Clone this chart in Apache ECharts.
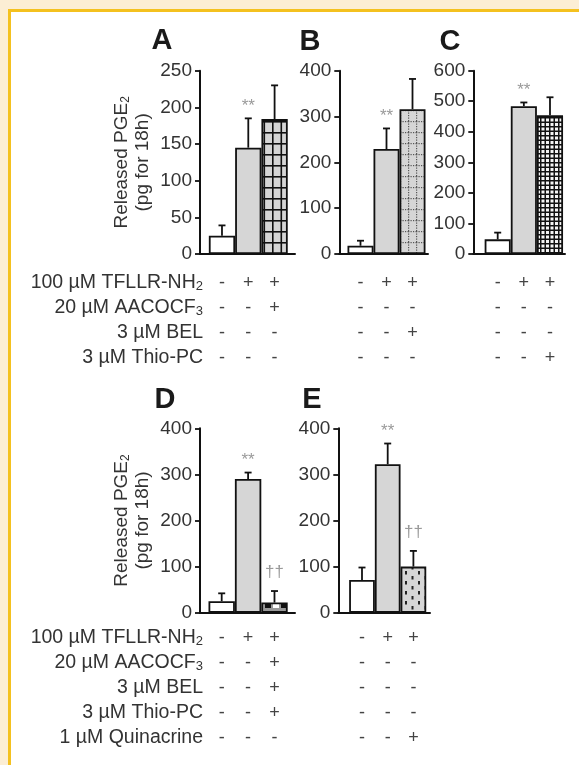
<!DOCTYPE html>
<html>
<head>
<meta charset="utf-8">
<script src="https://cdn.jsdelivr.net/npm/echarts@6/dist/echarts.min.js"></script>
<style>
  html, body { margin:0; padding:0; width:579px; height:765px; overflow:hidden; background:#FCEED4; }
  #frame { position:absolute; left:8px; top:9px; right:0; bottom:0; background:#fff;
           border-left:3px solid #F4C11F; border-top:3px solid #F4C11F; }
  #chart { position:absolute; left:0; top:0; width:579px; height:765px; }
</style>
</head>
<body>
<div id="frame"></div>
<div id="chart"></div>
<script>
// ---------------- DATA ----------------
const panelLetters = ['A', 'B', 'C', 'D', 'E'];
const conditions = [1, 2, 3];
const meansA = [25, 145, 184];
const errA   = [14, 40, 46];
const meansB = [18, 229, 316];
const errB   = [11, 45, 66];
const meansC = [48, 484, 454];
const errC   = [22, 12, 59];
const meansD = [25, 290, 22];
const errD   = [17, 14, 25];
const meansE = [71, 322, 100];
const errE   = [27, 45, 34];
const marksA = ['', '**', ''];
const marksB = ['', '**', ''];
const marksC = ['', '**', ''];
const marksD = ['', '**', '††'];
const marksE = ['', '**', '††'];
const yMaxes = [250, 400, 600, 400, 400];
const ySteps = [50, 100, 100, 100, 100];
const yTitleLine1 = 'Released PGE{s|2}';
const yTitleLine2 = '(pg for 18h)';
const topRowLabels = ['100 µM TFLLR-NH{s|2}', '20 µM AACOCF{s|3}', '3 µM BEL', '3 µM Thio-PC'];
const bottomRowLabels = ['100 µM TFLLR-NH{s|2}', '20 µM AACOCF{s|3}', '3 µM BEL', '3 µM Thio-PC', '1 µM Quinacrine'];
const signsA = [['-','+','+'], ['-','-','+'], ['-','-','-'], ['-','-','-']];
const signsB = [['-','+','+'], ['-','-','-'], ['-','-','+'], ['-','-','-']];
const signsC = [['-','+','+'], ['-','-','-'], ['-','-','-'], ['-','-','+']];
const signsD = [['-','+','+'], ['-','-','+'], ['-','-','+'], ['-','-','+'], ['-','-','-']];
const signsE = [['-','+','+'], ['-','-','-'], ['-','-','-'], ['-','-','-'], ['-','-','+']];

// ---------------- STYLE / LAYOUT ----------------
const FONT = '"Liberation Sans", Arial, Helvetica, sans-serif';
const TXT = '#333';
const GRAY = '#d6d6d6';
const grids = [
  { left: 200,   top: 70.7,  width: 95,   height: 183.3, xmin: 0.164, xmax: 3.776, bw: 26.3 },
  { left: 339.3, top: 70.7,  width: 88.7, height: 183.3, xmin: 0.185, xmax: 3.596, bw: 26 },
  { left: 473.3, top: 70.7,  width: 91.7, height: 183.3, xmin: 0.067, xmax: 3.574, bw: 26.1 },
  { left: 200,   top: 428.3, width: 95,   height: 184.4, xmin: 0.178, xmax: 3.777, bw: 26.4 },
  { left: 338.3, top: 428.3, width: 91.7, height: 184.4, xmin: 0.078, xmax: 3.646, bw: 25.7 }
];
const letterPos = [[162, 41], [310, 42], [450, 42], [165, 400], [312, 400]];

function mkCanvas(w, h) { const c = document.createElement('canvas'); c.width = w; c.height = h; return c; }
function patGrid() { // A: gray with black grid
  const c = mkCanvas(17, 22); const g = c.getContext('2d');
  g.fillStyle = GRAY; g.fillRect(0, 0, c.width, c.height);
  g.strokeStyle = '#111'; g.lineWidth = 1.6;
  [0.8, 9.3].forEach(x => { g.beginPath(); g.moveTo(x, 0); g.lineTo(x, c.height); g.stroke(); });
  [0.8, 11.8].forEach(y => { g.beginPath(); g.moveTo(0, y); g.lineTo(c.width, y); g.stroke(); });
  return c;
}
function patDotted() { // B: gray with dotted grid
  const c = mkCanvas(8, 11); const g = c.getContext('2d');
  g.fillStyle = GRAY; g.fillRect(0, 0, 8, 11);
  g.fillStyle = '#555';
  for (let y = 0; y < 11; y += 2.5) g.fillRect(0, y, 1.2, 1.2);
  for (let x = 0; x < 8; x += 2.5) g.fillRect(x, 0, 1.2, 1.2);
  return c;
}
function patMesh() { // C: fine black mesh
  const c = mkCanvas(9, 9); const g = c.getContext('2d');
  g.fillStyle = '#111'; g.fillRect(0, 0, 9, 9);
  g.fillStyle = '#f4f4f4';
  g.fillRect(1.5, 1.5, 3, 3); g.fillRect(6, 1.5, 3, 3);
  g.fillRect(1.5, 6, 3, 3); g.fillRect(6, 6, 3, 3);
  return c;
}
function patBlocks() { // D: black / white blocks
  const c = mkCanvas(16, 10); const g = c.getContext('2d');
  g.fillStyle = '#999'; g.fillRect(0, 0, 16, 10);
  g.fillStyle = '#fff'; g.fillRect(1, 2, 6, 6);
  g.fillStyle = '#111'; g.fillRect(9, 2, 6, 6);
  return c;
}
function patDots() { // E: gray with black dashes
  const c = mkCanvas(13, 10); const g = c.getContext('2d');
  g.fillStyle = GRAY; g.fillRect(0, 0, 13, 10);
  g.fillStyle = '#222';
  g.fillRect(2, 1, 2, 3.5); g.fillRect(8.5, 6, 2, 3.5);
  g.fillRect(8.5, -4, 2, 3.5);
  return c;
}
const patterns = [patGrid(), patDotted(), patMesh(), patBlocks(), patDots()];

const means = [meansA, meansB, meansC, meansD, meansE];
const errs = [errA, errB, errC, errD, errE];
const marks = [marksA, marksB, marksC, marksD, marksE];
const signs = [signsA, signsB, signsC, signsD, signsE];

const chart = echarts.init(document.getElementById('chart'), null, { renderer: 'canvas' });

const gridOpt = [], xAxes = [], yAxes = [], series = [];
grids.forEach((gd, i) => {
  gridOpt.push({ left: gd.left, top: gd.top, width: gd.width, height: gd.height, containLabel: false });
  xAxes.push({
    type: 'value', gridIndex: i, min: gd.xmin, max: gd.xmax,
    axisLine: { show: true, onZero: false, lineStyle: { color: '#111', width: 2 } },
    axisTick: { show: false }, axisLabel: { show: false }, splitLine: { show: false }
  });
  yAxes.push({
    type: 'value', gridIndex: i, min: 0, max: yMaxes[i], interval: ySteps[i],
    axisLine: { show: true, lineStyle: { color: '#111', width: 2 } },
    axisTick: { show: true, length: 5, lineStyle: { color: '#111', width: 1.8 } },
    axisLabel: { color: TXT, fontSize: 19, fontFamily: FONT, margin: 8 },
    splitLine: { show: false }
  });
  const fills = ['#ffffff', GRAY, { image: patterns[i], repeat: 'repeat' }];
  series.push({
    type: 'bar', xAxisIndex: i, yAxisIndex: i, barWidth: gd.bw,
    data: conditions.map((c, k) => ({
      value: [c, means[i][k]],
      itemStyle: { color: fills[k], borderColor: '#111', borderWidth: 1.8 }
    })),
    animation: false
  });
  series.push({
    type: 'custom', xAxisIndex: i, yAxisIndex: i, z: 5,
    data: conditions.map((c, k) => [c, means[i][k], errs[i][k], k]),
    renderItem: function (params, api) {
      const x = api.value(0), m = api.value(1), e = api.value(2), k = api.value(3);
      const p0 = api.coord([x, m]);
      const p1 = api.coord([x, m + e]);
      const children = [
        { type: 'line', shape: { x1: p0[0], y1: p0[1], x2: p1[0], y2: p1[1] }, style: { stroke: '#111', lineWidth: 1.8 } },
        { type: 'line', shape: { x1: p1[0] - 3.5, y1: p1[1], x2: p1[0] + 3.5, y2: p1[1] }, style: { stroke: '#111', lineWidth: 1.8 } }
      ];
      const mk = marks[i][k];
      if (mk) {
        const off = mk === '**' ? 12 : 19;
        children.push({ type: 'text', x: p1[0], y: p1[1] - off,
          style: { text: mk, fill: '#9a9a9a', fontSize: 17, fontFamily: FONT, align: 'center', verticalAlign: 'middle' } });
      }
      return { type: 'group', children: children };
    },
    animation: false
  });
});

const subRich = { s: { fontSize: 13, fontFamily: FONT, fill: TXT, verticalAlign: 'bottom', lineHeight: 8 } };

chart.setOption({
  animation: false,
  grid: gridOpt, xAxis: xAxes, yAxis: yAxes, series: series
});

// ----- graphics: letters, y titles, condition table -----
const graphics = [];
panelLetters.forEach((L, i) => {
  graphics.push({ type: 'text', x: letterPos[i][0], y: letterPos[i][1],
    style: { text: L, fontSize: 29, fontWeight: 'bold', fontFamily: FONT, fill: '#1a1a1a', align: 'center', verticalAlign: 'middle' } });
});
[0, 3].forEach(i => {
  const cy = grids[i].top + grids[i].height / 2;
  graphics.push({ type: 'text', x: 132, y: cy, rotation: Math.PI / 2,
    style: { text: yTitleLine1 + '\n' + yTitleLine2, fontSize: 19, lineHeight: 21, fontFamily: FONT, fill: TXT,
      align: 'center', verticalAlign: 'middle',
      rich: { s: { fontSize: 12, fontFamily: FONT, fill: TXT, verticalAlign: 'bottom', lineHeight: 10 } } } });
});
function addTable(labels, panelIdx, y0, step) {
  labels.forEach((lab, r) => {
    graphics.push({ type: 'text', x: 203, y: y0 + r * step,
      style: { text: lab, fontSize: 19.5, fontFamily: FONT, fill: TXT, align: 'right', verticalAlign: 'middle', rich: subRich } });
  });
  panelIdx.forEach(pi => {
    signs[pi].forEach((row, r) => {
      row.forEach((s, k) => {
        const px = chart.convertToPixel({ xAxisIndex: pi }, conditions[k]);
        graphics.push({ type: 'text', x: px, y: y0 + r * step,
          style: { text: s, fontSize: 18, fontFamily: FONT, fill: '#444', align: 'center', verticalAlign: 'middle' } });
      });
    });
  });
}
addTable(topRowLabels, [0, 1, 2], 283, 25);
addTable(bottomRowLabels, [3, 4], 638, 25);

chart.setOption({ graphic: graphics });
</script>
</body>
</html>
